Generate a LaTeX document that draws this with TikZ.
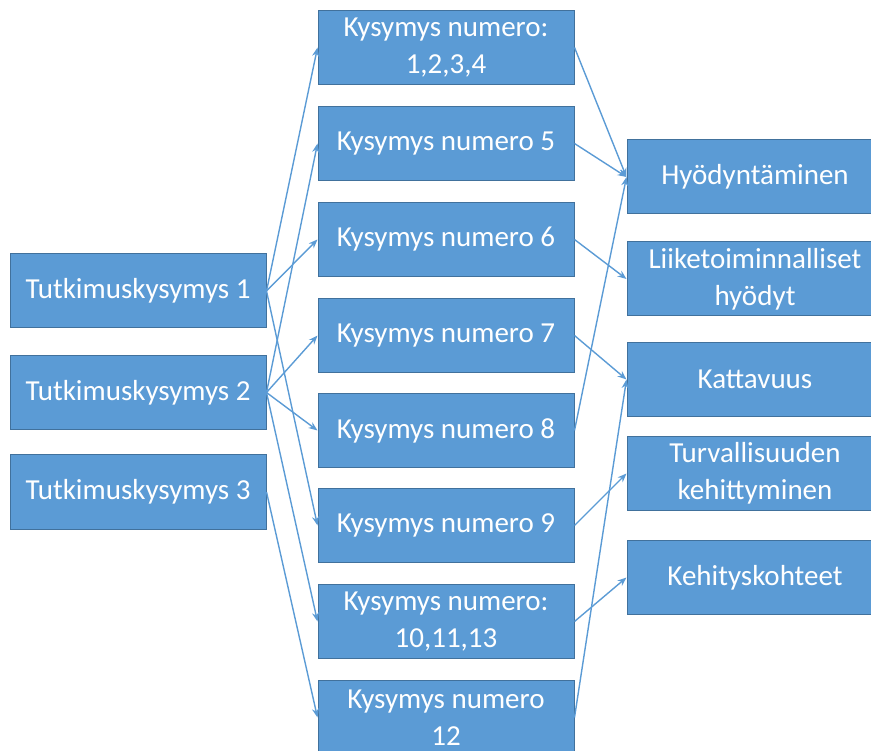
\documentclass[tikz,border=0pt]{standalone}
\usepackage{fontspec}
\setmainfont{Carlito}
\usetikzlibrary{arrows.meta}
\definecolor{boxfill}{HTML}{5B9BD5}
\definecolor{boxline}{HTML}{41719C}
\definecolor{arrowcol}{HTML}{5B9BD5}
\begin{document}
\begin{tikzpicture}[x=1pt,y=-1pt,
  qbox/.style={draw=boxline, line width=1pt, fill=boxfill, text=white,
    minimum width=256pt, minimum height=74pt, inner sep=0pt,
    align=center, font=\fontsize{29}{37}\selectfont},
  conn/.style={draw=arrowcol, line width=1.4pt,
    -{Stealth[length=9pt,width=7pt]}}]
\useasboundingbox (0,0) rectangle (871,751);
\begin{scope}
\clip (0,0) rectangle (871,751);
% left column
\node[qbox] (t1) at (138,291) {Tutkimuskysymys 1};
\node[qbox] (t2) at (138,392.5) {Tutkimuskysymys 2};
\node[qbox] (t3) at (138,492) {Tutkimuskysymys 3};
% middle column
\node[qbox] (m1) at (446,47.5) {Kysymys numero:\\1,2,3,4};
\node[qbox] (m5) at (446,143.5) {Kysymys numero 5};
\node[qbox] (m6) at (446,239.5) {Kysymys numero 6};
\node[qbox] (m7) at (446,335.5) {Kysymys numero 7};
\node[qbox] (m8) at (446,430.5) {Kysymys numero 8};
\node[qbox] (m9) at (446,525.5) {Kysymys numero 9};
\node[qbox] (m10) at (446,621.5) {Kysymys numero:\\10,11,13};
\node[qbox] (m12) at (446,717.5) {Kysymys numero\\12};
% right column
\node[qbox] (r1) at (755,177) {Hyödyntäminen};
\node[qbox] (r2) at (755,279) {Liiketoiminnalliset\\hyödyt};
\node[qbox] (r3) at (755,379.5) {Kattavuus};
\node[qbox] (r4) at (755,473.5) {Turvallisuuden\\kehittyminen};
\node[qbox] (r5) at (755,577.5) {Kehityskohteet};
% left to middle
\draw[conn] (t1.east) -- (m1.west);
\draw[conn] (t1.east) -- (m6.west);
\draw[conn] (t1.east) -- (m9.west);
\draw[conn] (t2.east) -- (m5.west);
\draw[conn] (t2.east) -- (m7.west);
\draw[conn] (t2.east) -- (m8.west);
\draw[conn] (t2.east) -- (m10.west);
\draw[conn] (t3.east) -- (m12.west);
% middle to right
\draw[conn] (m1.east) -- (r1.west);
\draw[conn] (m5.east) -- (r1.west);
\draw[conn] (m8.east) -- (r1.west);
\draw[conn] (m6.east) -- (r2.west);
\draw[conn] (m7.east) -- (r3.west);
\draw[conn] (m12.east) -- (r3.west);
\draw[conn] (m9.east) -- (r4.west);
\draw[conn] (m10.east) -- (r5.west);
\end{scope}
\end{tikzpicture}
\end{document}
